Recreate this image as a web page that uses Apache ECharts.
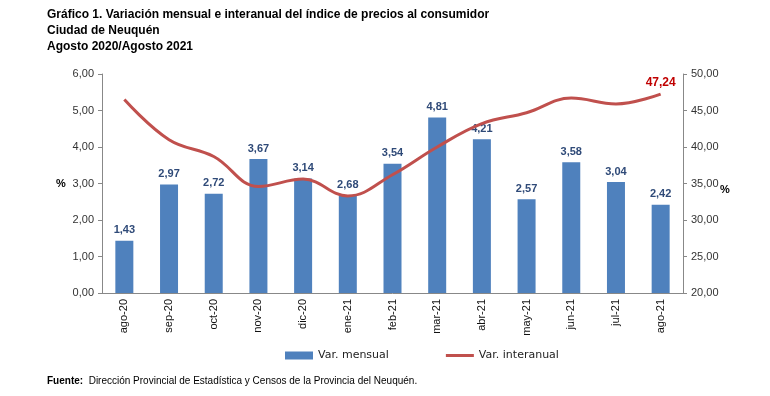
<!DOCTYPE html>
<html>
<head>
<meta charset="utf-8">
<script src="https://cdn.jsdelivr.net/npm/echarts@6/dist/echarts.min.js"></script>
<style>
html,body{margin:0;padding:0;background:#fff;}
#c{width:770px;height:396px;}
</style>
</head>
<body>
<div id="c"></div>
<script>
const categories = ["ago-20","sep-20","oct-20","nov-20","dic-20","ene-21","feb-21","mar-21","abr-21","may-21","jun-21","jul-21","ago-21"];
const varMensual = [1.43,2.97,2.72,3.67,3.14,2.68,3.54,4.81,4.21,2.57,3.58,3.04,2.42];
const varInteranual = [46.5,41.0,38.7,34.6,35.6,33.3,36.2,40.0,43.2,44.7,46.7,45.9,47.24];
const leftTicks = [0,6,1];
const rightTicks = [20,50,5];

const chart = echarts.init(document.getElementById('c'), null, {renderer:'canvas'});
const fmt = v => v.toFixed(2).replace('.', ',');
const font = "'Liberation Sans', Arial, sans-serif";
const lastIdx = categories.length - 1;
chart.setOption({
  animation:false,
  backgroundColor:'#fff',
  textStyle:{fontFamily:font},
  graphic:[
    {type:'text',left:47,top:9,style:{text:'Gráfico 1. Variación mensual e interanual del índice de precios al consumidor',font:"bold 12px 'Liberation Sans', Arial",fill:'#000'}},
    {type:'text',left:47,top:25,style:{text:'Ciudad de Neuquén',font:"bold 12px 'Liberation Sans', Arial",fill:'#000'}},
    {type:'text',left:47,top:41,style:{text:'Agosto 2020/Agosto 2021',font:"bold 12px 'Liberation Sans', Arial",fill:'#000'}},
    {type:'text',left:47,top:376,style:{rich:{b:{font:"bold 10px 'Liberation Sans', Arial",fill:'#000'},n:{font:"10px 'Liberation Sans', Arial",fill:'#000'}},text:'{b|Fuente:}{n|  Dirección Provincial de Estadística y Censos de la Provincia del Neuquén.}'}},
    {type:'text',left:56,top:178,style:{text:'%',font:"bold 11px 'Liberation Sans', Arial",fill:'#000'}},
    {type:'text',left:720,top:184,style:{text:'%',font:"bold 11px 'Liberation Sans', Arial",fill:'#000'}}
  ],
  legend:{
    top:345,left:280,itemGap:57,itemWidth:28,itemHeight:8,
    textStyle:{fontSize:11,color:'#222',fontFamily:"'DejaVu Sans', sans-serif"},
    data:[{name:'Var. mensual',icon:'rect'},{name:'Var. interanual',icon:'path://M0,0h28v3h-28z'}]
  },
  grid:{left:102,right:87,top:74,bottom:103,containLabel:false},
  xAxis:{
    type:'category',data:categories,
    axisLine:{lineStyle:{color:'#888'}},
    axisTick:{show:false},
    axisLabel:{rotate:90,fontSize:11,color:'#111',margin:6}
  },
  yAxis:[
    {type:'value',min:leftTicks[0],max:leftTicks[1],interval:leftTicks[2],
     axisLine:{show:true,lineStyle:{color:'#888'}},
     axisTick:{show:true,length:4,lineStyle:{color:'#888'}},
     splitLine:{show:false},
     axisLabel:{formatter:fmt,fontSize:11,color:'#333',margin:8}},
    {type:'value',min:rightTicks[0],max:rightTicks[1],interval:rightTicks[2],position:'right',
     axisLine:{show:true,lineStyle:{color:'#888'}},
     axisTick:{show:true,length:4,lineStyle:{color:'#888'}},
     splitLine:{show:false},
     axisLabel:{formatter:fmt,fontSize:11,color:'#333',margin:8}}
  ],
  series:[
    {name:'Var. mensual',type:'bar',data:varMensual,barWidth:18,yAxisIndex:0,
     itemStyle:{color:'#4F81BD'},
     label:{show:true,position:'top',formatter:p=>fmt(p.value),fontSize:11,fontWeight:'bold',color:'#2F4A78',distance:5}},
    {name:'Var. interanual',type:'line',data:varInteranual,yAxisIndex:1,smooth:0.4,
     symbol:'circle',symbolSize:0,showSymbol:true,showAllSymbol:true,
     lineStyle:{color:'#C0504D',width:3},itemStyle:{color:'#C0504D'},
     label:{show:true,position:'top',offset:[2,-2],fontSize:12,fontWeight:'bold',color:'#C00000',
       formatter:p=>p.dataIndex===lastIdx?fmt(p.value):''},
     labelLayout:{hideOverlap:false},z:3}
  ]
});
</script>
</body>
</html>
